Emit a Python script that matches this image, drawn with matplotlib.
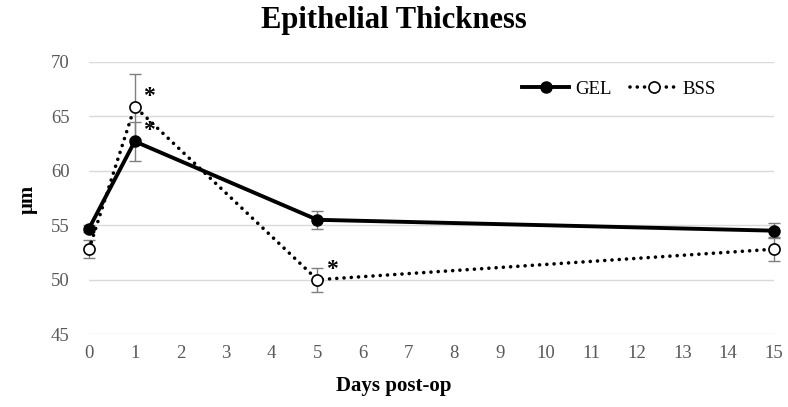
import matplotlib.pyplot as plt

# Epithelial thickness data
days = [0, 1, 5, 15]
gel = [54.7, 62.7, 55.5, 54.5]
gel_err = [0.3, 1.8, 0.8, 0.7]
bss = [52.8, 65.9, 50.0, 52.8]
bss_err = [0.8, 3.0, 1.1, 1.1]
xticks = list(range(0, 16))
yticks = [45, 50, 55, 60, 65, 70]

# significant points: (series, index)
sig = [('bss', 1), ('gel', 1), ('bss', 2)]

plt.rcParams['font.family'] = ['Liberation Serif', 'DejaVu Serif']

fig = plt.figure(figsize=(7.88, 4.07), dpi=100)
ax = fig.add_axes([0.113, 0.179, 0.869, 0.669])

ax.errorbar(days, gel, yerr=gel_err, fmt='none', ecolor='#7f7f7f',
            elinewidth=1, capsize=4, capthick=1, zorder=2, clip_on=False)
ax.errorbar(days, bss, yerr=bss_err, fmt='none', ecolor='#7f7f7f',
            elinewidth=1, capsize=4, capthick=1, zorder=2, clip_on=False)

ax.plot(days, gel, color='black', linewidth=2.8, marker='o', markersize=8,
        markerfacecolor='black', label='GEL', zorder=4, clip_on=False)
ax.plot(days, bss, color='black', linewidth=2.6, linestyle=(0, (0.01, 2.0)),
        dash_capstyle='round', marker='o', markersize=8,
        markerfacecolor='white', markeredgewidth=1.2, label='BSS', zorder=3,
        clip_on=False)

for name, i in sig:
    vals = bss if name == 'bss' else gel
    ax.annotate('*', (days[i], vals[i]), xytext=(6, 0), textcoords='offset points',
                fontsize=17, fontweight='bold', ha='left', va='bottom')

ax.set_xlim(0, 15)
ax.set_ylim(45, 70)
ax.set_xticks(xticks)
ax.set_yticks(yticks)
ax.grid(axis='y', color='#d9d9d9', linewidth=1)
ax.set_axisbelow(True)
for s in ax.spines.values():
    s.set_visible(False)
ax.tick_params(length=0, labelsize=13.5, labelcolor='#595959', pad=8)
ax.tick_params(axis='y', pad=14)

fig.suptitle('Epithelial Thickness', fontsize=22, fontweight='bold', x=0.5, y=0.985)
fig.text(0.5, 0.04, 'Days post-op', fontsize=15, fontweight='bold', ha='center')
fig.text(0.035, 0.51, 'μm', fontsize=15, fontweight='bold', rotation=90,
         ha='center', va='center')

ax.legend(loc='upper right', bbox_to_anchor=(0.94, 0.993), frameon=False,
          fontsize=13.5, ncol=2, handlelength=2.5, columnspacing=1.0,
          handletextpad=0.3)

fig.savefig('out.png', dpi=100)
